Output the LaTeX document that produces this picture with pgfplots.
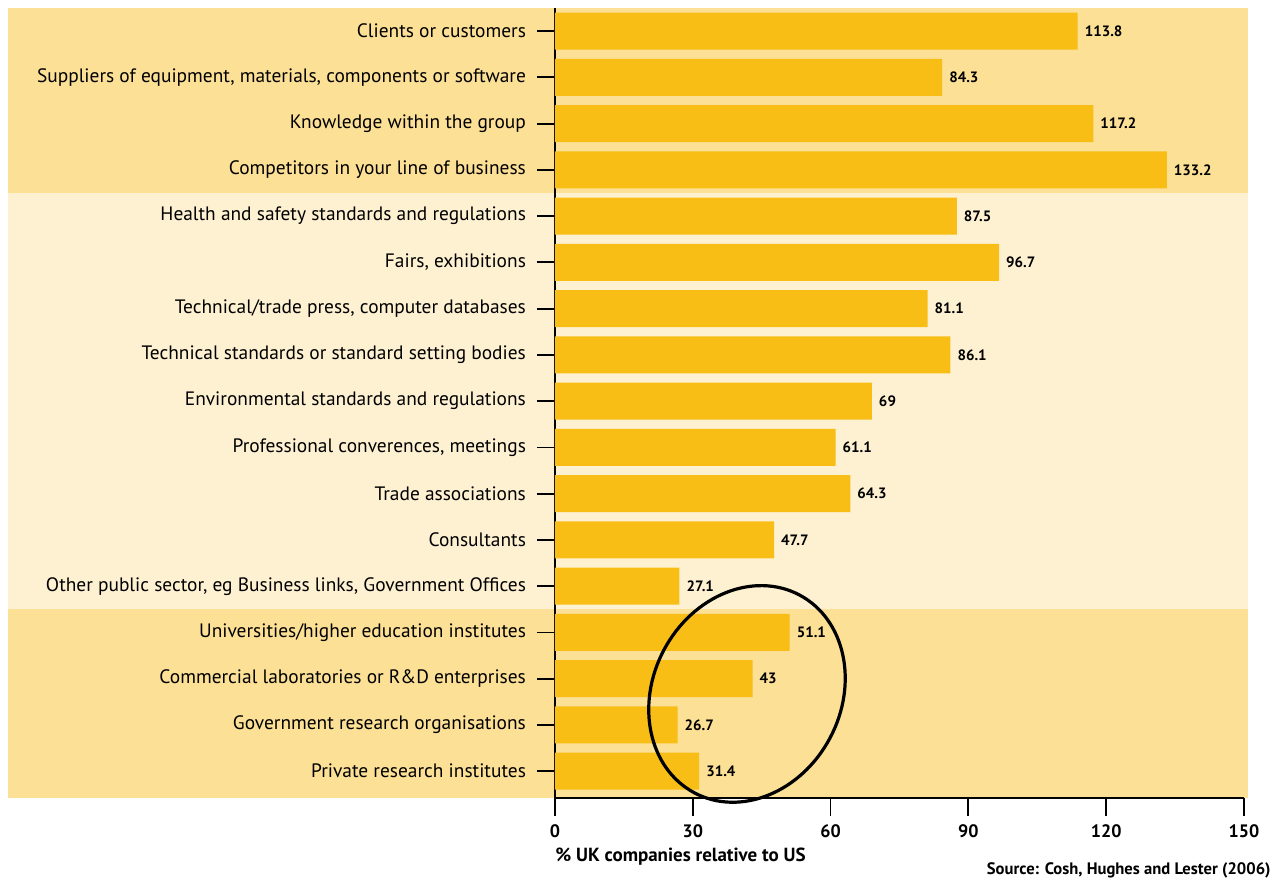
\documentclass[border=0pt]{standalone}
\usepackage{fontspec}
\setmainfont{PT Sans}
\usepackage{pgfplots}
\pgfplotsset{compat=1.18}
\usetikzlibrary{shapes.geometric}
\definecolor{barc}{RGB}{249,190,22}
\definecolor{banddark}{RGB}{252,224,150}
\definecolor{bandlight}{RGB}{254,241,210}
\begin{document}
\begin{tikzpicture}
\useasboundingbox (-277.5pt,-45pt) rectangle (360.5pt,399pt);
% background bands (row height 395/17.08 = 23.126pt)
\fill[banddark] (-273.3pt,395pt) rectangle (346.6pt,302.5pt);
\fill[bandlight] (-273.3pt,302.5pt) rectangle (346.6pt,94.36pt);
\fill[banddark] (-273.3pt,94.36pt) rectangle (346.6pt,0pt);
\begin{axis}[
  at={(0pt,0pt)}, anchor=south west,
  scale only axis,
  width=344.5pt, height=395pt,
  xbar, bar width=18.5pt,
  xmin=0, xmax=150,
  ymin=-0.5, ymax=16.58,
  y dir=reverse,
  axis x line*=bottom, axis y line*=left,
  axis line style={line width=0.9pt},
  tick style={line width=0.9pt, black},
  tick align=outside,
  major tick length=9pt,
  xtick={0,30,60,90,120,150},
  ytick={0,...,16},
  yticklabels={Clients or customers,
    {Suppliers of equipment, materials, components or software},
    Knowledge within the group,
    Competitors in your line of business,
    Health and safety standards and regulations,
    {Fairs, exhibitions},
    {Technical/trade press, computer databases},
    Technical standards or standard setting bodies,
    Environmental standards and regulations,
    {Professional converences, meetings},
    Trade associations,
    Consultants,
    {Other public sector, eg Business links, Government Offices},
    Universities/higher education institutes,
    Commercial laboratories or R\&D enterprises,
    Government research organisations,
    Private research institutes},
  yticklabel style={font=\fontsize{9.7}{11}\selectfont, xshift=-2pt},
  xticklabel style={font=\fontsize{9}{10}\selectfont\bfseries, yshift=-1pt},
  /pgf/number format/assume math mode=true,
  clip=false,
  nodes near coords,
  every node near coord/.append style={font=\fontsize{7.5}{8}\selectfont\bfseries, black, anchor=west, xshift=0pt},
  point meta=explicit symbolic,
]
\addplot[fill=barc, draw=none] table[meta=v] {
x y v
113.8 0 113.8
84.3 1 84.3
117.2 2 117.2
133.2 3 133.2
87.5 4 87.5
96.7 5 96.7
81.1 6 81.1
86.1 7 86.1
69 8 69
61.1 9 61.1
64.3 10 64.3
47.7 11 47.7
27.1 12 27.1
51.1 13 51.1
43 14 43
26.7 15 26.7
31.4 16 31.4
};
\node[draw, ellipse, line width=1.6pt, minimum width=94pt, minimum height=112pt, rotate=-28] at (axis cs:41.8,14.33) {};
\node[anchor=north west, font=\fontsize{9.5}{10}\selectfont\bfseries, inner sep=0pt] at (axis cs:0,16.58) [yshift=-25pt] {\% UK companies relative to US};
\end{axis}
\node[anchor=north east, font=\fontsize{8.3}{9}\selectfont\bfseries, inner sep=0pt] at (358pt,-32pt) {Source: Cosh, Hughes and Lester (2006)};
\end{tikzpicture}
\end{document}
